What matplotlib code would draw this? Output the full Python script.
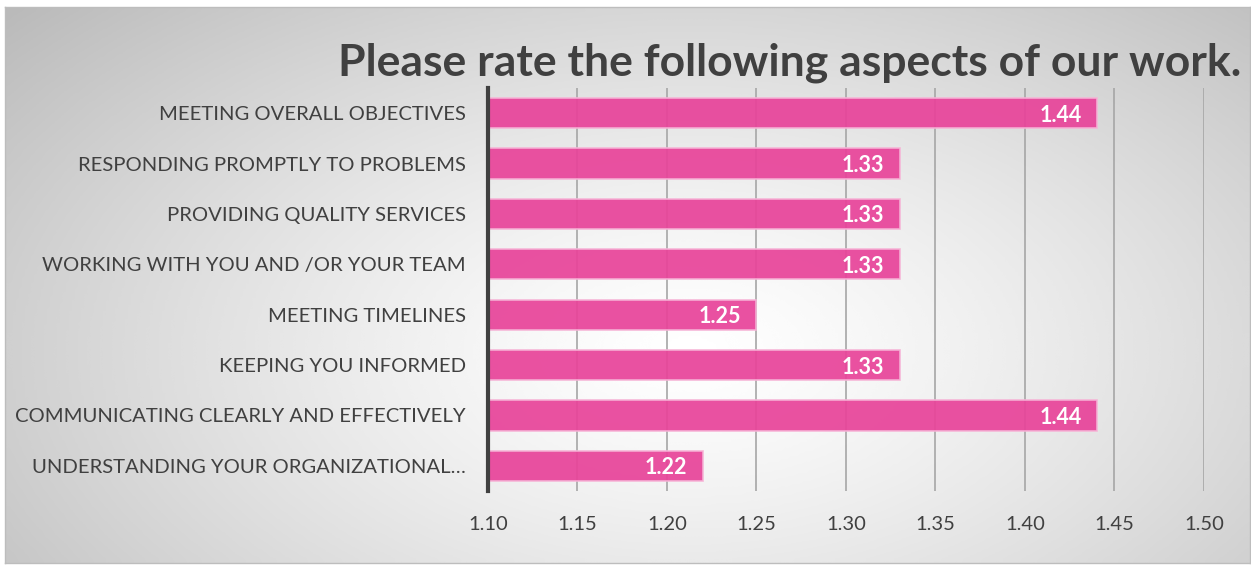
import matplotlib
matplotlib.use("Agg")
import matplotlib.pyplot as plt
import numpy as np

# -- survey results --
ASPECTS = [
    "MEETING OVERALL OBJECTIVES",
    "RESPONDING PROMPTLY TO PROBLEMS",
    "PROVIDING QUALITY SERVICES",
    "WORKING WITH YOU AND /OR YOUR TEAM",
    "MEETING TIMELINES",
    "KEEPING YOU INFORMED",
    "COMMUNICATING CLEARLY AND EFFECTIVELY",
    "UNDERSTANDING YOUR ORGANIZATIONAL\u2026",
]
SCORES = [1.44, 1.33, 1.33, 1.33, 1.25, 1.33, 1.44, 1.22]
XTICKS = [1.10, 1.15, 1.20, 1.25, 1.30, 1.35, 1.40, 1.45, 1.50]
TITLE = "Please rate the following aspects of our work."

TEXT = "#404040"
BAR = "#E8449A"

plt.rcParams["font.family"] = ["Lato", "DejaVu Sans"]

W, H = 1251, 565
fig = plt.figure(figsize=(W / 100, H / 100), dpi=100)
fig.patch.set_facecolor("white")

# radial grey-to-white background inside the chart frame
bg = fig.add_axes([5 / W, 2 / H, 1245 / W, 556 / H])
gx, gy = np.meshgrid(np.linspace(0, 1, 400), np.linspace(0, 1, 200))
r = np.sqrt(((gx - 0.55) / 0.75) ** 2 + ((gy - 0.62) / 0.95) ** 2)
shade = np.clip(1.0 - 0.28 * np.clip(r, 0, 1) ** 1.3, 0, 1)
bg.imshow(shade, cmap="gray", vmin=0, vmax=1, extent=[0, 1, 0, 1],
          aspect="auto", origin="upper", interpolation="bicubic")
bg.set_xticks([]); bg.set_yticks([])
for s in bg.spines.values():
    s.set_color("#bdbdbd")
    s.set_linewidth(1.0)

ax = fig.add_axes([488 / W, (H - 491) / H, 716 / W, 403 / H])
ax.patch.set_alpha(0)

y = np.arange(len(ASPECTS))
ax.barh(y, [v - XTICKS[0] for v in SCORES], left=XTICKS[0], height=0.6,
        color=BAR, alpha=0.93, edgecolor="#F6B3D6", linewidth=1.2, zorder=3)
for yi, v in zip(y, SCORES):
    ax.text(v - 0.0085, yi + 0.04, f"{v:.2f}", ha="right", va="center",
            color="white", fontsize=15.5, fontweight="bold", zorder=4)

ax.set_xlim(XTICKS[0], XTICKS[-1])
ax.set_ylim(len(ASPECTS) - 0.5, -0.5)
ax.set_xticks(XTICKS)
ax.set_xticklabels([f"{t:.2f}" for t in XTICKS])
ax.set_yticks(y)
ax.set_yticklabels(ASPECTS)
ax.tick_params(axis="x", length=0, pad=18, labelsize=14.5, labelcolor=TEXT)
ax.tick_params(axis="y", length=0, pad=16, labelsize=14.6, labelcolor=TEXT)
ax.grid(axis="x", color="#a6a6a6", linewidth=1.2, zorder=1)
ax.set_axisbelow(True)
for side in ["top", "right", "bottom"]:
    ax.spines[side].set_visible(False)
ax.spines["left"].set_color(TEXT)
ax.spines["left"].set_linewidth(3)
ax.spines["left"].set_zorder(5)

fig.text(790 / W, 1 - 63 / H, TITLE, ha="center", va="center",
         fontsize=32, fontweight="bold", color=TEXT)

fig.savefig("out.png", dpi=100)
